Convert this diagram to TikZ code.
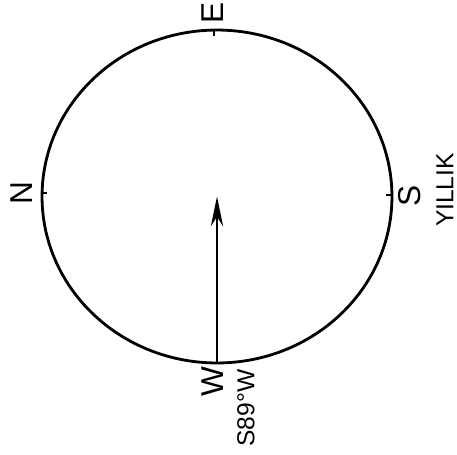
\documentclass[tikz,border=0pt]{standalone}
\usepackage{fontspec}
\setmainfont{Liberation Sans}
\usetikzlibrary{arrows.meta, positioning}

\begin{document}
\begin{tikzpicture}[>=Stealth, x=0.02cm, y=-0.02cm,
    yon/.style={rotate=90, inner sep=0pt, font=\fontsize{18}{18}\selectfont},
    yazi/.style={rotate=90, inner sep=0pt, font=\fontsize{14}{14}\selectfont},
    cember/.style={line width=1.6pt},
    centik/.style={line width=1.3pt}]
        % Sayfa sinirlari
        \useasboundingbox (0,0) rectangle (457,454);

        % Merkez ve ana yonler
        \coordinate (O) at (217,196.5);
        \coordinate (Ept) at (214,30);
        \coordinate (Npt) at (42,193);
        \coordinate (Spt) at (392,195);
        \coordinate (Wpt) at (217,363);

        % Cember
        \draw[cember] (O) ellipse (3.5cm and 3.33cm);

        % Yon centikleri
        \draw[centik] (Ept) -- ++(0,6);
        \draw[centik] (Npt) -- ++(5,0);
        \draw[centik] (Spt) -- ++(-6,0);
        \draw[centik] (Wpt) -- ++(0,-6);

        % Yon harfleri
        \node[yon] (E) at (213,13) {E};
        \node[yon] (N) at (22,193) {N};
        \node[yon] (S) at (410,196) {S};
        \node[yon] (W) at (213,382) {W};

        % Yazilar
        \node[yazi] (aci) at (246,408) {S89°W};
        \node[yazi] (yillik) at (445,190) {YILLIK};

        % Ortalama yon oku
        \draw[->, line width=1.5pt, >={Stealth[length=17pt, width=7pt]}] (Wpt) -- (O);

    \end{tikzpicture}
\end{document}
